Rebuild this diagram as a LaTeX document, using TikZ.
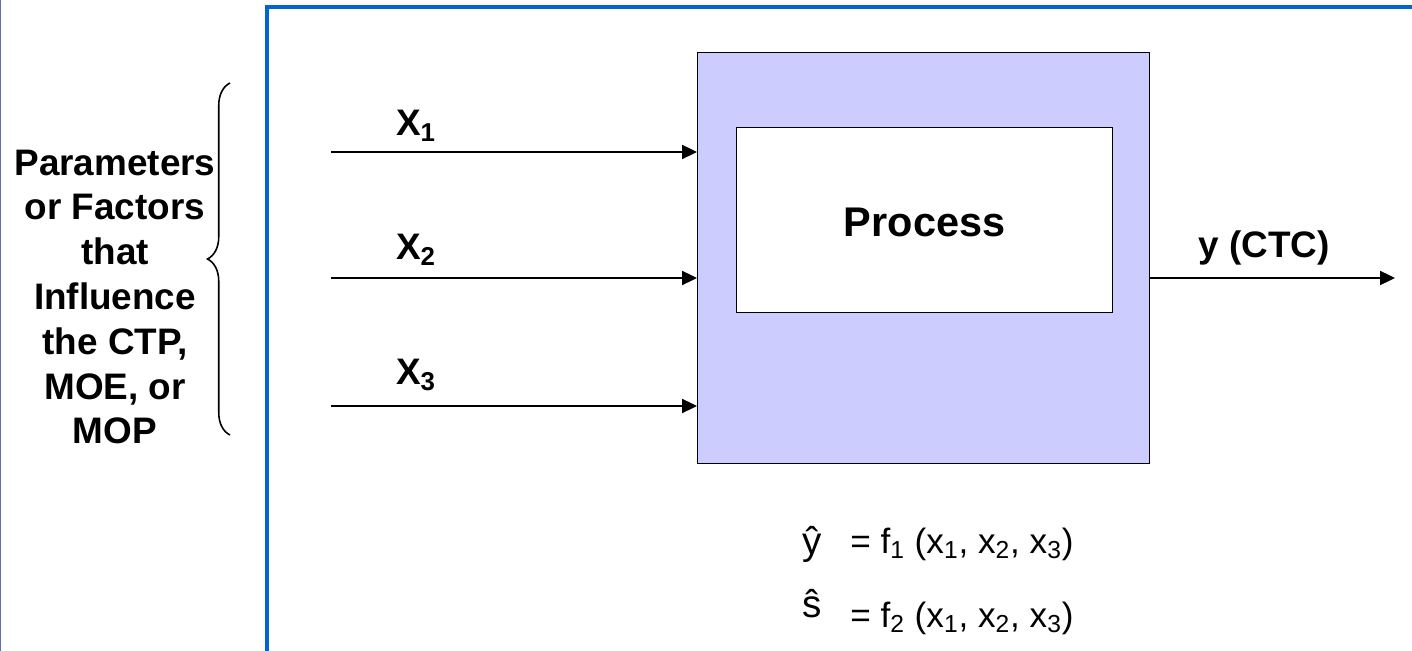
\documentclass[tikz,border=0pt]{standalone}
\usepackage{fontspec}
\setmainfont{Liberation Sans}
\usepackage{tikz}
\usetikzlibrary{positioning, calc, arrows.meta, decorations.pathreplacing}
\definecolor{dgFrame}{HTML}{0066CC}
\definecolor{dgEdge}{HTML}{6070A8}
\definecolor{dgLilac}{HTML}{CCCCFF}

\begin{document}
\begin{tikzpicture}[x=0.02cm, y=-0.02cm,
	inarrow/.style={-{Triangle[length=0.3cm, width=0.28cm]}, line width=1.3pt},
	lbl/.style={font=\fontsize{21}{25.5}\selectfont\bfseries, inner sep=0pt},
	eqn/.style={font=\fontsize{20}{24}\selectfont, inner sep=0pt}]
					\useasboundingbox (0,0) rectangle (1412,651);
					% page edges
					\draw[dgEdge, line width=1pt] (0.5,0) -- (0.5,651);
					\draw[dgFrame, line width=2.3pt] (267,651) -- (267,7) -- (1412,7);
					% process blocks
					\node[draw, fill=dgLilac, line width=0.8pt, minimum width=9.04cm,
					minimum height=8.22cm, anchor=north west] (outer) at (697,52) {};
					\node[draw, fill=white, line width=0.8pt, minimum width=7.52cm,
					minimum height=3.7cm, anchor=north west] (inner) at (736,127) {};
					\node[font=\fontsize{23.6}{28}\selectfont\bfseries] (proc) at (inner.center |- 0,222) {Process};
					% inputs
					\coordinate (s1) at (331,152);
					\coordinate (s2) at (331,278);
					\coordinate (s3) at (331,406);
					\draw[inarrow] (s1) -- (s1 -| outer.west);
					\draw[inarrow] (s2) -- (s2 -| outer.west);
					\draw[inarrow] (s3) -- (s3 -| outer.west);
					\node[lbl] (x1) at (416,126) {X\textsubscript{1}};
					\node[lbl] (x2) at (416,250) {X\textsubscript{2}};
					\node[lbl] (x3) at (416,375) {X\textsubscript{3}};
					% output
					\coordinate (yout) at (1395,278);
					\draw[inarrow] (outer.east |- yout) -- (yout);
					\node[lbl] (ylab) at (1264,248) {y (CTC)};
					% factors brace
					\draw[line width=0.9pt, decorate, decoration={brace, amplitude=0.45cm}]
					(230,435) -- (230,83);
					\node[lbl, align=center] (factors) at (115,297)
					{Parameters\\or Factors\\that\\Influence\\the CTP,\\MOE, or\\MOP};
					% model equations
					\node[eqn, font=\fontsize{22}{26}\selectfont, anchor=base] (yhat) at (812,554) {ŷ};
					\node[eqn, anchor=base west] (eq1) at (850,553)
					{= f\textsubscript{1} (x\textsubscript{1}, x\textsubscript{2}, x\textsubscript{3})};
					\node[eqn, font=\fontsize{22}{26}\selectfont, anchor=base] (shat) at (812,617) {ŝ};
					\node[eqn, anchor=base west] (eq2) at (850,627)
					{= f\textsubscript{2} (x\textsubscript{1}, x\textsubscript{2}, x\textsubscript{3})};
				\end{tikzpicture}
\end{document}
